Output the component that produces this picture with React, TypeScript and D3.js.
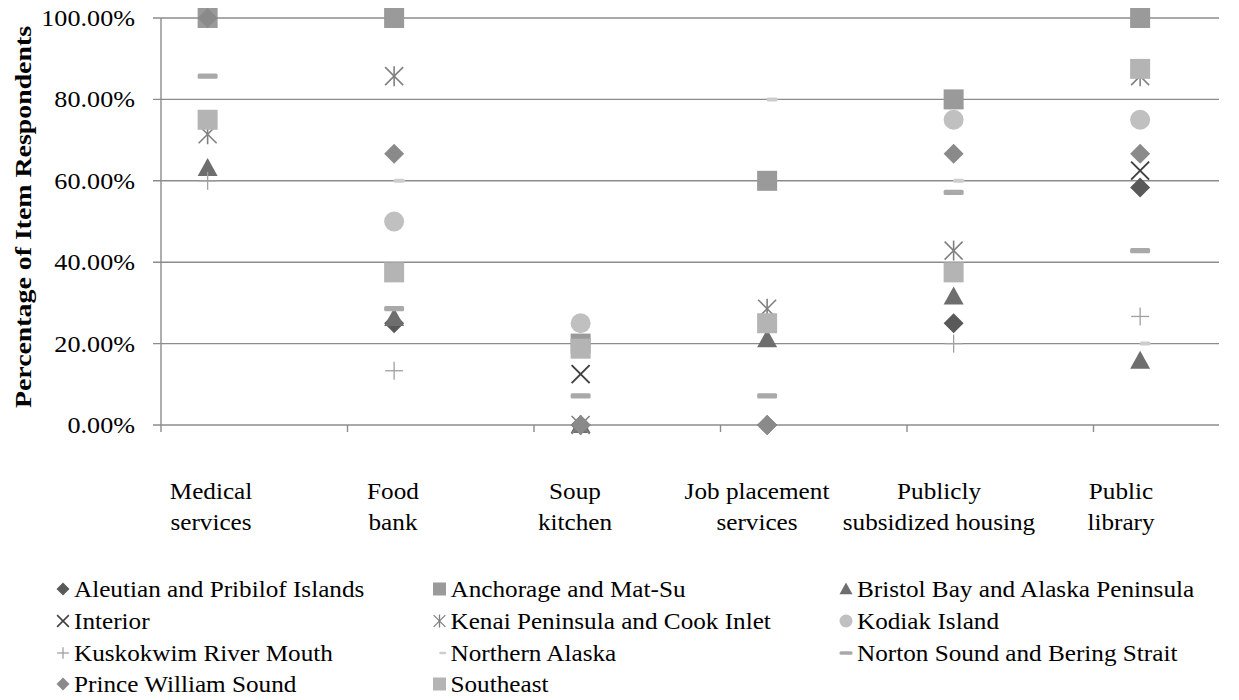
import React from "react";
import * as d3 from "d3";

const categories = [
  "Medical services",
  "Food bank",
  "Soup kitchen",
  "Job placement services",
  "Publicly subsidized housing",
  "Public library",
];
const categoryLines = [
  ["Medical", "services"],
  ["Food", "bank"],
  ["Soup", "kitchen"],
  ["Job placement", "services"],
  ["Publicly", "subsidized housing"],
  ["Public", "library"],
];
const yTicks = [0, 20, 40, 60, 80, 100];

const seriesNames = [
  "Aleutian and Pribilof Islands",
  "Anchorage and Mat-Su",
  "Bristol Bay and Alaska Peninsula",
  "Interior",
  "Kenai Peninsula and Cook Inlet",
  "Kodiak Island",
  "Kuskokwim River Mouth",
  "Northern Alaska",
  "Norton Sound and Bering Strait",
  "Prince William Sound",
  "Southeast",
];
const aleutian = [100, 25, 0, 0, 25, 58.33];
const anchorage = [100, 100, 20, 60, 80, 100];
const bristol = [63.16, 26.32, 0, 21.05, 31.58, 15.79];
const interior = [null, null, 12.5, null, null, 62.5];
const kenai = [71.43, 85.71, 0, 28.57, 42.86, 85.71];
const kodiak = [null, 50, 25, null, 75, 75];
const kuskokwim = [60, 13.33, 0, 0, 20, 26.67];
const northern = [null, 60, null, 80, 60, 20];
const norton = [85.71, 28.57, 7.14, 7.14, 57.14, 42.86];
const pws = [100, 66.67, 0, 0, 66.67, 66.67];
const southeast = [75, 37.5, 18.75, 25, 37.5, 87.5];

const seriesValues = [aleutian, anchorage, bristol, interior, kenai, kodiak, kuskokwim, northern, norton, pws, southeast];
const seriesShapes = ["diamond", "square", "triangle", "x", "star", "circle", "plus", "smalldash", "dash", "diamond", "square"];
const seriesColors = ["#595959", "#9a9a9a", "#6e6e6e", "#404040", "#808080", "#c0c0c0", "#a0a0a0", "#cdcdcd", "#a9a9a9", "#8a8a8a", "#b4b4b4"];

const FONT = "'Liberation Serif', 'Times New Roman', serif";
const FS = 24;
const SX_NUM = 1.09;
const SX = 1.05;

function Marker({ shape, x, y, s, color }: { shape: string; x: number; y: number; s: number; color: string }) {
  const h = s / 2;
  switch (shape) {
    case "diamond":
      return <path d={`M${x},${y - h}L${x + h},${y}L${x},${y + h}L${x - h},${y}Z`} fill={color} />;
    case "square":
      return <rect x={x - h} y={y - h} width={s} height={s} fill={color} />;
    case "triangle":
      return <path d={`M${x},${y - h}L${x + h},${y + h * 0.8}L${x - h},${y + h * 0.8}Z`} fill={color} />;
    case "circle":
      return <circle cx={x} cy={y} r={h} fill={color} />;
    case "x": {
      const a = h * 0.9;
      return (
        <g stroke={color} strokeWidth={s > 15 ? 2 : 1.6}>
          <line x1={x - a} y1={y - a} x2={x + a} y2={y + a} />
          <line x1={x - a} y1={y + a} x2={x + a} y2={y - a} />
        </g>
      );
    }
    case "star": {
      const a = h * 0.9;
      return (
        <g stroke={color} strokeWidth={s > 15 ? 1.6 : 1.3}>
          <line x1={x - a} y1={y - a} x2={x + a} y2={y + a} />
          <line x1={x - a} y1={y + a} x2={x + a} y2={y - a} />
          <line x1={x} y1={y - h} x2={x} y2={y + h} />
        </g>
      );
    }
    case "plus": {
      const a = h * 0.9;
      return (
        <g stroke={color} strokeWidth={1.3}>
          <line x1={x - a} y1={y} x2={x + a} y2={y} />
          <line x1={x} y1={y - a} x2={x} y2={y + a} />
        </g>
      );
    }
    case "dash":
      return <rect x={x - h} y={y - s * 0.13} width={s} height={s * 0.26} rx={1.5} fill={color} />;
    case "smalldash": {
      const w = s * 0.55;
      const off = s * 0.25;
      return <rect x={x + off - w / 2} y={y - s * 0.1} width={w} height={s * 0.2} rx={1.5} fill={color} />;
    }
    default:
      return null;
  }
}

export default function App() {
  const W = 1239;
  const H = 700;
  const axisLeft = 161;
  const gridRight = 1219;
  const y = d3.scaleLinear().domain([0, 100]).range([425, 18]);
  const xBand = d3.scaleBand<string>().domain(categories).range([axisLeft, axisLeft + 6 * 186.5]);
  const xMark = (c: string) => (xBand(c) as number) + xBand.bandwidth() * 0.25;
  const xLabel = d3.scalePoint<string>().domain(categories).range([211, 1121]);
  const gridColor = "#8c8c8c";

  const legendCols = [63, 439.5, 846];
  const legendRows = [589, 621, 653, 684];

  return (
    <svg width={W} height={H} style={{ position: "absolute", left: 0, top: 0, display: "block", background: "#fff" }} fontFamily={FONT}>
      {yTicks.map((t) => (
        <line key={t} x1={153} x2={gridRight} y1={y(t)} y2={y(t)} stroke={gridColor} strokeWidth={1.4} />
      ))}
      <line x1={axisLeft} x2={axisLeft} y1={y(100)} y2={y(0) + 7} stroke={gridColor} strokeWidth={1.4} />
      {categories.slice(1).map((c) => (
        <line key={c} x1={xBand(c) as number} x2={xBand(c) as number} y1={y(0)} y2={y(0) + 7} stroke={gridColor} strokeWidth={1.4} />
      ))}
      {yTicks.map((t) => (
        <text key={t} transform={`translate(135,${y(t) + 8}) scale(${SX_NUM},1)`} textAnchor="end" fontSize={FS} fill="#000">
          {d3.format(".2f")(t) + "%"}
        </text>
      ))}
      <text transform={`translate(31,217) rotate(-90) scale(1.16,1)`} textAnchor="middle" fontSize={FS} fontWeight="bold" fill="#000">
        Percentage of Item Respondents
      </text>
      {categories.map((c, i) =>
        categoryLines[i].map((ln, j) => (
          <text key={c + j} transform={`translate(${xLabel(c)},${499 + j * 31}) scale(${SX},1)`} textAnchor="middle" fontSize={FS} fill="#000">
            {ln}
          </text>
        ))
      )}
      {seriesValues.map((vals, si) => (
        <g key={si}>
          {vals.map((v, ci) =>
            v === null ? null : (
              <Marker key={ci} shape={seriesShapes[si]} x={xMark(categories[ci])} y={y(v)} s={20} color={seriesColors[si]} />
            )
          )}
        </g>
      ))}
      {seriesNames.map((name, i) => {
        const cx = legendCols[i % 3];
        const cy = legendRows[Math.floor(i / 3)];
        return (
          <g key={name}>
            <Marker shape={seriesShapes[i]} x={cx} y={cy} s={13} color={seriesColors[i]} />
            <text transform={`translate(${cx + 11},${cy + 8}) scale(${SX},1)`} fontSize={FS} fill="#000">
              {name}
            </text>
          </g>
        );
      })}
    </svg>
  );
}
